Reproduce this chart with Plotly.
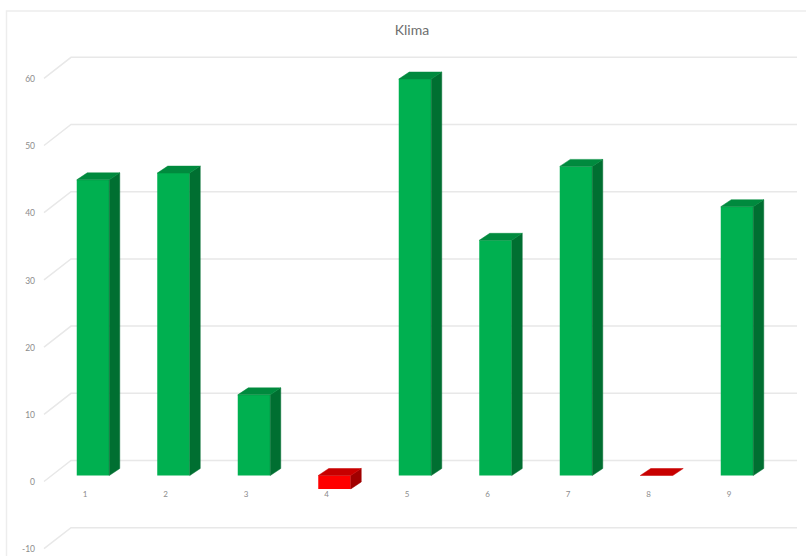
import plotly.graph_objects as go

# ---- data ----
categories = [1, 2, 3, 4, 5, 6, 7, 8, 9]
values = [44, 45, 12, -2, 59, 35, 46, 0, 40]
y_ticks = [-10, 0, 10, 20, 30, 40, 50, 60]
title_text = "Klima"

W, H = 806, 556
PX_PER_CAT = 80.5
PX_PER_VAL = 6.72
X0_PX, Y0_PX = 93.0, 475.5

def xv(px):
    return 1 + (px - X0_PX) / PX_PER_CAT

def yv(px):
    return (Y0_PX - px) / PX_PER_VAL

x_range = [xv(0), xv(W)]
y_range = [yv(H), yv(0)]

BAR_W = 32.5 / PX_PER_CAT
DX = 10.5 / PX_PER_CAT
DY = 7.0 / PX_PER_VAL

GRID_FRONT_X, GRID_BACK_X, GRID_END_X = xv(44), xv(71), xv(797)
GRID_FRONT_DY, GRID_BACK_DY = -6 / PX_PER_VAL, 15 / PX_PER_VAL
LABEL_DY = -7.5 / PX_PER_VAL

GREEN, GREEN_TOP, GREEN_SIDE = "#00B050", "#008A3E", "#006F31"
RED, RED_TOP, RED_SIDE = "#FF0000", "#C80000", "#A00000"
GRID = "#E8E8E8"
TEXT = "#8C8C8C"

gx, gy = [], []
for t in y_ticks:
    gx += [GRID_FRONT_X, GRID_BACK_X, GRID_END_X, None]
    gy += [t + GRID_FRONT_DY, t + GRID_BACK_DY, t + GRID_BACK_DY, None]

def faces(keep):
    sx, sy, tx, ty = [], [], [], []
    for c, v in zip(categories, values):
        if not keep(v):
            continue
        l, r = c - BAR_W / 2, c + BAR_W / 2
        hi, lo = max(v, 0), min(v, 0)
        if hi != lo:
            sx += [r, r + DX, r + DX, r, r, None]
            sy += [lo, lo + DY, hi + DY, hi, lo, None]
        tx += [l, r, r + DX, l + DX, l, None]
        ty += [hi, hi, hi + DY, hi + DY, hi, None]
    return sx, sy, tx, ty

def poly(x, y, color):
    return go.Scatter(x=x, y=y, mode="lines", fill="toself", fillcolor=color,
                      line=dict(color=color, width=0.5), hoverinfo="skip",
                      showlegend=False, xaxis="x2", yaxis="y2")

fig = go.Figure()
fig.add_trace(go.Scatter(x=gx, y=gy, mode="lines", line=dict(color=GRID, width=1.5),
                         hoverinfo="skip", showlegend=False))
fig.add_trace(go.Scatter(x=[xv(35)] * len(y_ticks), y=[t + LABEL_DY for t in y_ticks], mode="text",
                         text=[str(t) for t in y_ticks], textposition="middle left",
                         textfont=dict(family="Lato", size=8.5, color=TEXT),
                         hoverinfo="skip", showlegend=False))
fig.add_trace(go.Scatter(x=[c - 8 / PX_PER_CAT for c in categories],
                         y=[yv(495)] * len(categories), mode="text",
                         text=[str(c) for c in categories], textposition="middle center",
                         textfont=dict(family="Lato", size=8, color=TEXT),
                         hoverinfo="skip", showlegend=False))

gs = faces(lambda v: v > 0)
rs = faces(lambda v: v <= 0)
fig.add_trace(go.Bar(x=categories, y=values, width=BAR_W,
                     marker=dict(color=[GREEN if v > 0 else RED for v in values], line_width=0),
                     showlegend=False, xaxis="x2", yaxis="y2"))
fig.add_trace(poly(gs[0], gs[1], GREEN_SIDE))
fig.add_trace(poly(gs[2], gs[3], GREEN_TOP))
fig.add_trace(poly(rs[0], rs[1], RED_SIDE))
fig.add_trace(poly(rs[2], rs[3], RED_TOP))

axis = dict(visible=False, fixedrange=True)
fig.update_layout(
    width=W, height=H, margin=dict(l=0, r=0, t=0, b=0),
    paper_bgcolor="white", plot_bgcolor="rgba(0,0,0,0)",
    xaxis=dict(range=x_range, **axis),
    yaxis=dict(range=y_range, **axis),
    xaxis2=dict(range=x_range, overlaying="x", **axis),
    yaxis2=dict(range=y_range, overlaying="y", **axis),
    showlegend=False,
    title=dict(text=title_text, x=412 / W, y=1 - 30 / H, xanchor="center", yanchor="middle",
               font=dict(family="Lato", size=14, color="#6E6E6E")),
    shapes=[dict(type="rect", xref="paper", yref="paper",
                 x0=6.5 / W, x1=1.02, y0=-0.02, y1=1 - 11 / H,
                 line=dict(color="#EDEDED", width=1.5), layer="below")],
)
fig.write_html("out.html", config={"displayModeBar": False},
               post_script="document.body.style.margin='0';document.documentElement.style.overflow='hidden';")
